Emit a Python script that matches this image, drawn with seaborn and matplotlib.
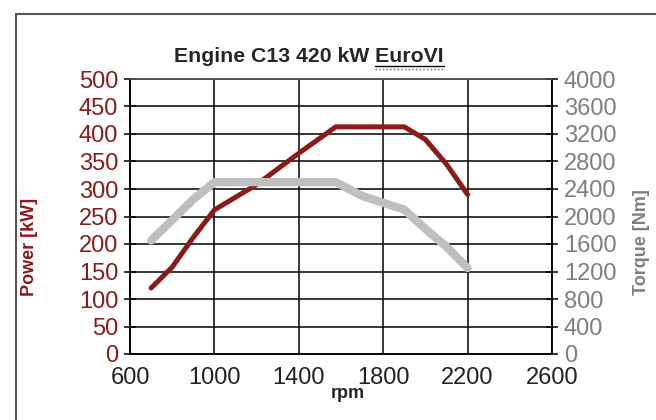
import pandas as pd
import matplotlib.pyplot as plt
import seaborn as sns
from matplotlib.patches import Rectangle
from matplotlib.lines import Line2D

# Data
power_rpm = [700, 800, 900, 1000, 1200, 1400, 1575, 1900, 2000, 2100, 2200]
power_kw = [120, 158, 212, 262, 308, 365, 413, 413, 390, 345, 290]

torque_rpm = [700, 800, 900, 1000, 1575, 1700, 1900, 2000, 2100, 2200]
torque_nm = [1650, 1950, 2250, 2500, 2500, 2300, 2100, 1820, 1560, 1250]

x_ticks = [600, 1000, 1400, 1800, 2200, 2600]
power_ticks = list(range(0, 501, 50))
torque_ticks = list(range(0, 4001, 400))

red = '#8b1a1a'
grey = '#bfbfbf'
grey_txt = '#7f7f7f'

sns.set_theme(style='white')
plt.rcParams['font.family'] = ['Liberation Sans Narrow', 'Liberation Sans', 'DejaVu Sans']

df_p = pd.DataFrame({'rpm': power_rpm, 'power': power_kw})
df_t = pd.DataFrame({'rpm': torque_rpm, 'torque': torque_nm})

fig = plt.figure(figsize=(6.56, 4.20), dpi=100)
ax = fig.add_axes([130 / 656, 1 - 354 / 420, (552 - 130) / 656, (354 - 79) / 420])
ax2 = ax.twinx()

sns.lineplot(data=df_p, x='rpm', y='power', ax=ax, color=red, lw=3.6, sort=False)
sns.lineplot(data=df_t, x='rpm', y='torque', ax=ax2, color=grey, lw=6, sort=False)

ax.set_xlim(600, 2600)
ax.set_ylim(0, 500)
ax2.set_ylim(0, 4000)
ax.set_xticks(x_ticks)
ax.set_yticks(power_ticks)
ax2.set_yticks(torque_ticks)

ax.grid(True, color='black', lw=1.1)
ax.set_axisbelow(True)

for a in (ax, ax2):
    for s in a.spines.values():
        s.set_color('black')
        s.set_linewidth(1.1)
    a.spines['top'].set_color('#555555')

ax.tick_params(axis='y', direction='inout', length=9, width=1.1, color='black',
               labelcolor=red, labelsize=17, pad=4)
ax.tick_params(axis='x', direction='out', length=6, width=1.1, color='black',
               labelcolor='#222222', labelsize=17, pad=3)
ax2.tick_params(axis='y', direction='inout', length=9, width=1.1, color='black',
                labelcolor=grey_txt, labelsize=17, pad=4)

ax.set_xlabel('')
ax.set_ylabel('')
ax2.set_ylabel('')

bold_fam = ['Liberation Sans', 'DejaVu Sans']
fig.text(348 / 656, 1 - 394 / 420, 'rpm', ha='center', va='center',
         fontsize=13, fontweight='bold', family=bold_fam)
fig.text(30 / 656, 1 - 247 / 420, 'Power [kW]', ha='center', va='center', rotation=90,
         fontsize=13, fontweight='bold', color=red, family=bold_fam)
fig.text(641 / 656, 1 - 242 / 420, 'Torque [Nm]', ha='center', va='center', rotation=90,
         fontsize=13, fontweight='bold', color=grey_txt, family=bold_fam)

title = fig.text(309 / 656, 1 - 57 / 420, 'Engine C13 420 kW EuroVI', ha='center', va='center',
                 fontsize=15.3, fontweight='bold', family=bold_fam)

# underline "EuroVI" like the source (Excel spell-check look)
fig.canvas.draw()
r = fig.canvas.get_renderer()
bb = title.get_window_extent(r)
pre = fig.text(0, 0, 'Engine C13 420 kW ', fontsize=15.3, fontweight='bold', family=bold_fam)
pw = pre.get_window_extent(r).width
pre.remove()
x0 = (bb.x0 + pw) / 656
x1 = bb.x1 / 656
yl = (bb.y0 + 1) / 420
fig.add_artist(Line2D([x0, x1], [yl, yl], color='black', lw=1))
fig.add_artist(Line2D([x0, x1], [yl - 3 / 420, yl - 3 / 420], color='#d04040', lw=1, ls=':'))

# chart frame
fig.add_artist(Rectangle((16 / 656, -0.1), 1.2, 1 - 14 / 420 + 0.1, transform=fig.transFigure,
                         fill=False, edgecolor='#555555', lw=1.5))

fig.savefig('out.png', dpi=100)
